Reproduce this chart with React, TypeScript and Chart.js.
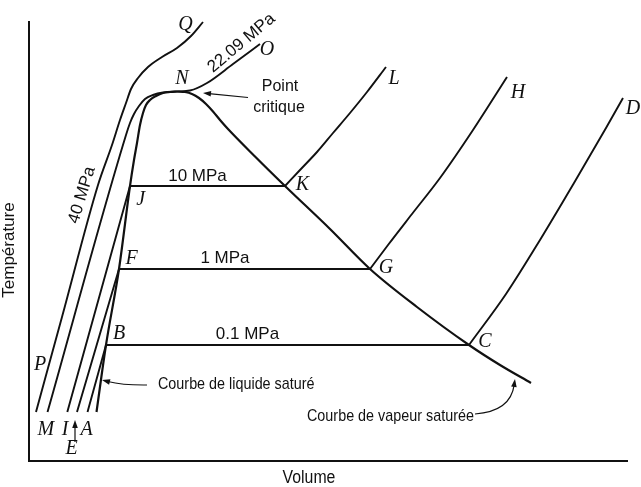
import { useEffect, useRef } from "react";
import { Chart, registerables } from "chart.js";

Chart.register(...registerables);

type Pair = [number, number];

// ---- Curves: [volume, temperature] (arbitrary units) ----
const isobar40MPa: Pair[] = [
  [7, 49], [33, 144], [69, 276], [83, 316], [91, 341], [97, 358], [102, 372],
  [109, 383], [119, 394], [133, 404], [148, 413], [162, 425], [174, 439],
];
const isobarCritical: Pair[] = [
  [18.5, 49], [97, 326], [101, 338], [105, 347], [110, 355], [116, 362],
  [124, 366], [134, 368.5], [148, 369.5], [161, 370.5], [178, 378], [204, 397], [231, 417],
];
const isobar10Liquid: Pair[] = [[38.3, 49], [101, 275], [256, 275]];
const isobar10Vapor: Pair[] = [[256, 275], [271, 291], [288, 309], [304, 328], [321, 348], [338, 369], [357, 394]];
const isobar1Liquid: Pair[] = [[48, 49], [90, 192], [341, 192]];
const isobar1Vapor: Pair[] = [[341, 192], [359, 216], [383, 247], [411, 283], [444, 331], [478, 384]];
const isobar01Liquid: Pair[] = [[58.5, 49], [77, 116], [440, 116]];
const isobar01Vapor: Pair[] = [[440, 116], [477, 167], [511, 221], [545, 278], [577, 333], [594, 363]];
const saturatedLiquid: Pair[] = [
  [67.5, 49], [77, 116], [90, 192], [101, 275], [105, 301], [108, 318], [111, 336],
  [114, 348], [117, 356], [121, 361], [127, 365], [134, 368], [141, 369], [148, 369.5],
];
const saturatedVapor: Pair[] = [
  [148, 369.5], [156, 369], [163, 367], [170, 363], [177, 357], [184, 349.5], [191, 341],
  [199, 332], [226, 304.5], [256, 275], [301, 232], [341, 192], [388, 154],
  [440, 116], [471, 96], [502, 78],
];

const volumeMax = 598;
const temperatureMax = 439;

// ---- Texts ----
const stateLetters: { text: string; v: number; t: number }[] = [
  { text: "Q", v: 156.5, t: 436.5 }, { text: "N", v: 153, t: 382.7 }, { text: "O", v: 238, t: 411 },
  { text: "L", v: 365, t: 382.7 }, { text: "H", v: 489, t: 368.5 }, { text: "D", v: 604, t: 352 },
  { text: "K", v: 273.5, t: 276 }, { text: "J", v: 111.8, t: 261 }, { text: "F", v: 102.7, t: 202.7 },
  { text: "G", v: 357, t: 193 }, { text: "B", v: 90, t: 127 }, { text: "C", v: 456, t: 119.3 },
  { text: "P", v: 11, t: 96 }, { text: "M", v: 16.8, t: 31 }, { text: "I", v: 36, t: 31 },
  { text: "A", v: 57.7, t: 31 }, { text: "E", v: 42.7, t: 12 },
];
const pressureLabels: { text: string; v: number; t: number; angle: number }[] = [
  { text: "10 MPa", v: 168.5, t: 285, angle: 0 },
  { text: "1 MPa", v: 196, t: 202.7, angle: 0 },
  { text: "0.1 MPa", v: 218.5, t: 127, angle: 0 },
  { text: "40 MPa", v: 53, t: 266, angle: -73 },
  { text: "22.09 MPa", v: 212.5, t: 418, angle: -40 },
];
const noteLines: { text: string; v: number; t: number }[] = [
  { text: "Point", v: 251, t: 374.5 },
  { text: "critique", v: 250, t: 353.7 },
];
const curveNotes: { text: string; v: number; t: number }[] = [
  { text: "Courbe de liquide saturé", v: 129, t: 76.5 },
  { text: "Courbe de vapeur saturée", v: 278, t: 44.5 },
];
const pointerArrows: { from: Pair; via: Pair; to: Pair }[] = [
  { from: [219, 363.5], via: [196.5, 365.7], to: [174, 368] },
  { from: [118, 76], via: [94, 75.7], to: [73, 81] },
  { from: [446, 47], via: [481.5, 49.5], to: [486, 82] },
  { from: [46, 19], via: [46, 30], to: [46, 41] },
];

const INK = "#111";
const SANS = '"Liberation Sans", Arial, sans-serif';
const SERIF_IT = 'italic 20px "Liberation Serif", "Times New Roman", serif';

function drawText(
  ctx: CanvasRenderingContext2D,
  s: string,
  x: number,
  y: number,
  font: string,
  o: { align?: CanvasTextAlign; rot?: number; sx?: number } = {}
) {
  ctx.save();
  ctx.translate(x, y);
  if (o.rot) ctx.rotate((o.rot * Math.PI) / 180);
  if (o.sx) ctx.scale(o.sx, 1);
  ctx.font = font;
  ctx.textAlign = o.align ?? "center";
  ctx.textBaseline = "middle";
  ctx.fillText(s, 0, 0);
  ctx.restore();
}

function drawArrow(ctx: CanvasRenderingContext2D, p0: Pair, c: Pair, p1: Pair) {
  const ang = Math.atan2(p1[1] - c[1], p1[0] - c[0]);
  const L = 8, W = 2.8;
  const bx = p1[0] - L * Math.cos(ang), by = p1[1] - L * Math.sin(ang);
  ctx.beginPath();
  ctx.moveTo(p0[0], p0[1]);
  ctx.quadraticCurveTo(c[0], c[1], bx + 2 * Math.cos(ang), by + 2 * Math.sin(ang));
  ctx.stroke();
  ctx.beginPath();
  ctx.moveTo(p1[0], p1[1]);
  ctx.lineTo(bx + W * Math.sin(ang), by - W * Math.cos(ang));
  ctx.lineTo(bx - W * Math.sin(ang), by + W * Math.cos(ang));
  ctx.closePath();
  ctx.fill();
}

const annotations = {
  id: "annotations",
  afterDatasetsDraw(chart: any) {
    const { ctx, chartArea } = chart;
    const xs = chart.scales.x, ys = chart.scales.y;
    const P = (v: number, t: number): Pair => [xs.getPixelForValue(v), ys.getPixelForValue(t)];
    ctx.save();
    ctx.fillStyle = INK;
    ctx.strokeStyle = INK;

    for (const l of stateLetters) {
      const [x, y] = P(l.v, l.t);
      drawText(ctx, l.text, x, y, SERIF_IT);
    }
    for (const l of pressureLabels) {
      const [x, y] = P(l.v, l.t);
      drawText(ctx, l.text, x, y, `17px ${SANS}`, { rot: l.angle });
    }
    for (const l of noteLines) {
      const [x, y] = P(l.v, l.t);
      drawText(ctx, l.text, x, y, `16px ${SANS}`);
    }
    for (const l of curveNotes) {
      const [x, y] = P(l.v, l.t);
      drawText(ctx, l.text, x, y, `17px ${SANS}`, { align: "left", sx: 0.845 });
    }
    ctx.lineWidth = 1.2;
    for (const a of pointerArrows) {
      drawArrow(ctx, P(a.from[0], a.from[1]), P(a.via[0], a.via[1]), P(a.to[0], a.to[1]));
    }

    // axis titles
    drawText(ctx, "Température", chartArea.left - 19.5, chartArea.top + 228, `17px ${SANS}`, { rot: -90 });
    drawText(ctx, "Volume", chartArea.left + 280, chartArea.bottom + 17.5, `18px ${SANS}`, { sx: 0.88 });
    ctx.restore();
  },
};

function curve(data: Pair[], smooth: boolean, width = 1.9) {
  return {
    data: data.map(([v, t]) => ({ x: v, y: t })),
    showLine: true,
    borderColor: INK,
    backgroundColor: INK,
    borderWidth: width,
    pointRadius: 0,
    pointHoverRadius: 0,
    tension: smooth ? 0.4 : 0,
    cubicInterpolationMode: smooth ? ("monotone" as const) : ("default" as const),
    fill: false,
    clip: false,
    borderJoinStyle: "round" as const,
  };
}

export default function App() {
  const ref = useRef<HTMLCanvasElement>(null);
  useEffect(() => {
    document.body.style.margin = "0";
    const chart = new Chart(ref.current!, {
      type: "scatter",
      data: {
        datasets: [
          curve(isobar40MPa, true),
          curve(isobarCritical, true),
          curve(isobar10Liquid, false),
          curve(isobar10Vapor, true),
          curve(isobar1Liquid, false),
          curve(isobar1Vapor, true),
          curve(isobar01Liquid, false),
          curve(isobar01Vapor, true),
          curve(saturatedLiquid, true, 2.2),
          curve(saturatedVapor, true, 2.2),
        ] as any,
      },
      options: {
        animation: false,
        responsive: false,
        events: [],
        layout: { padding: { top: 22, right: 14, left: 0, bottom: 0 } },
        plugins: { legend: { display: false }, tooltip: { enabled: false }, title: { display: false } },
        scales: {
          x: {
            type: "linear",
            min: 0,
            max: volumeMax,
            ticks: { display: false },
            grid: { display: false, drawTicks: false },
            border: { display: true, color: INK, width: 2 },
            afterFit: (s: any) => { s.height = 26; },
          },
          y: {
            type: "linear",
            min: 0,
            max: temperatureMax,
            ticks: { display: false },
            grid: { display: false, drawTicks: false },
            border: { display: true, color: INK, width: 2 },
            afterFit: (s: any) => { s.width = 29; },
          },
        },
      },
      plugins: [annotations],
    });
    return () => chart.destroy();
  }, []);
  return (
    <div style={{ width: 641, height: 487 }}>
      <canvas ref={ref} width={641} height={487} style={{ display: "block" }} />
    </div>
  );
}
